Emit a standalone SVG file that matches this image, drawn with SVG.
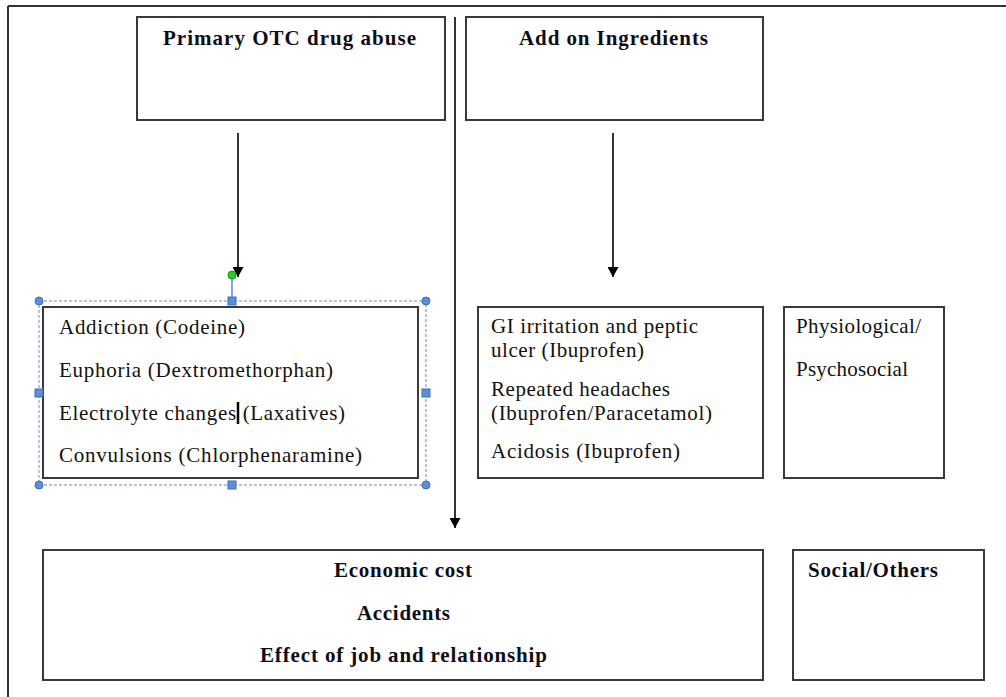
<svg xmlns="http://www.w3.org/2000/svg" width="1006" height="697" viewBox="0 0 1006 697">
<defs>
<style>
.box{fill:#fff;stroke:#3a3a3a;stroke-width:2}
.t{font-family:"Liberation Serif","Times New Roman",serif;font-size:21px;fill:#111}
.b{font-weight:bold;fill:#0d0d1a}
.ln{stroke:#333;stroke-width:2;fill:none}
.sel{fill:none;stroke:#5b8fd6;stroke-width:1;stroke-dasharray:3,2}
.h{fill:#5b8fd6;stroke:#3f6fb5;stroke-width:1}
</style>
<marker id="ah" markerWidth="11" markerHeight="11" refX="10" refY="5.5" orient="auto" markerUnits="userSpaceOnUse">
<path d="M0,0 L10,5.5 L0,11 Z" fill="#000"/>
</marker>
</defs>
<rect width="1006" height="697" fill="#fff"/>
<g id="frame">
<line x1="8" y1="6" x2="1006" y2="6" class="ln"/>
<line x1="8" y1="6" x2="8" y2="697" class="ln"/>
</g>
<g id="connectors">
<line x1="455" y1="17" x2="455" y2="528" class="ln" marker-end="url(#ah)"/>
<line x1="238" y1="133" x2="238" y2="277" class="ln" marker-end="url(#ah)"/>
<line x1="613" y1="133" x2="613" y2="277" class="ln" marker-end="url(#ah)"/>
</g>
<g id="primary">
<rect x="137" y="17" width="308" height="103" class="box"/>
<text x="163" y="45" class="t b" textLength="253" lengthAdjust="spacing">Primary OTC drug abuse</text>
</g>
<g id="addon">
<rect x="466" y="17" width="297" height="103" class="box"/>
<text x="519" y="45" class="t b" textLength="189" lengthAdjust="spacing">Add on Ingredients</text>
</g>
<g id="primary-effects">
<rect x="43" y="307" width="375" height="171" class="box"/>
<text x="59" y="334" class="t" textLength="186" lengthAdjust="spacing">Addiction (Codeine)</text>
<text x="59" y="377" class="t" textLength="274" lengthAdjust="spacing">Euphoria (Dextromethorphan)</text>
<text x="59" y="420" class="t" textLength="286" lengthAdjust="spacing">Electrolyte changes (Laxatives)</text>
<text x="59" y="462" class="t" textLength="303" lengthAdjust="spacing">Convulsions (Chlorphenaramine)</text>
<line x1="238" y1="402" x2="238" y2="424" stroke="#000" stroke-width="2.5"/>
</g>
<g id="selection">
<rect x="39" y="301" width="387" height="184" class="sel"/>
<line x1="232" y1="275" x2="232" y2="301" stroke="#5b8fd6" stroke-width="1.5"/>
<circle cx="232" cy="275" r="4" fill="#22cc22" stroke="#1a9a1a"/>
<circle cx="39" cy="301" r="4" class="h"/>
<circle cx="426" cy="301" r="4" class="h"/>
<circle cx="39" cy="485" r="4" class="h"/>
<circle cx="426" cy="485" r="4" class="h"/>
<rect x="228" y="297" width="8" height="8" class="h"/>
<rect x="228" y="481" width="8" height="8" class="h"/>
<rect x="35" y="389" width="8" height="8" class="h"/>
<rect x="422" y="389" width="8" height="8" class="h"/>
</g>
<g id="addon-effects">
<rect x="478" y="307" width="285" height="171" class="box"/>
<text x="491" y="333" class="t" textLength="207" lengthAdjust="spacing">GI irritation and peptic</text>
<text x="491" y="357" class="t" textLength="153" lengthAdjust="spacing">ulcer (Ibuprofen)</text>
<text x="491" y="396" class="t" textLength="179" lengthAdjust="spacing">Repeated headaches</text>
<text x="491" y="420" class="t" textLength="221" lengthAdjust="spacing">(Ibuprofen/Paracetamol)</text>
<text x="491" y="458" class="t" textLength="189" lengthAdjust="spacing">Acidosis (Ibuprofen)</text>
</g>
<g id="physio">
<rect x="784" y="307" width="160" height="171" class="box"/>
<text x="796" y="333" class="t" textLength="125" lengthAdjust="spacing">Physiological/</text>
<text x="796" y="376" class="t" textLength="112" lengthAdjust="spacing">Psychosocial</text>
</g>
<g id="economic">
<rect x="43" y="550" width="720" height="130" class="box"/>
<text x="334" y="577" class="t b" textLength="138" lengthAdjust="spacing">Economic cost</text>
<text x="357" y="620" class="t b" textLength="93" lengthAdjust="spacing">Accidents</text>
<text x="260" y="662" class="t b" textLength="287" lengthAdjust="spacing">Effect of job and relationship</text>
</g>
<g id="social">
<rect x="793" y="550" width="191" height="130" class="box"/>
<text x="808" y="577" class="t b" textLength="130" lengthAdjust="spacing">Social/Others</text>
</g>
</svg>
